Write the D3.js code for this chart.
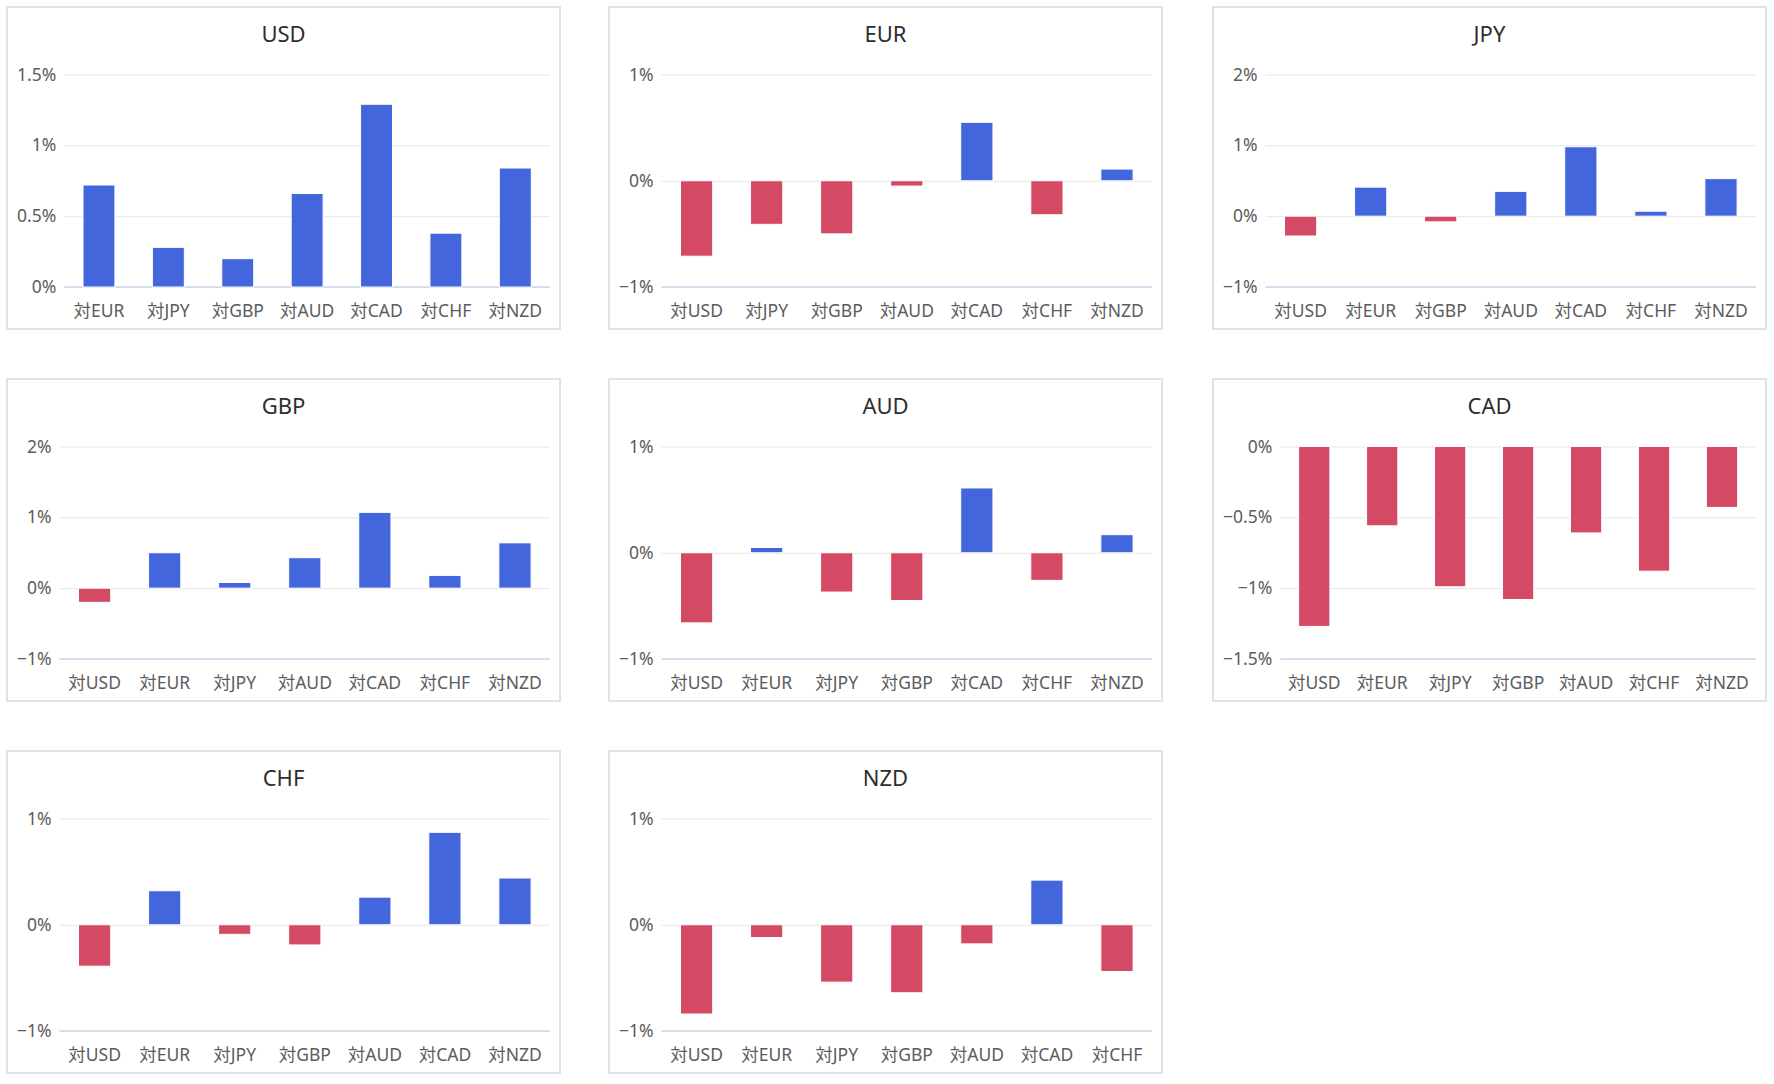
<!DOCTYPE html>
<html>
<head>
<meta charset="utf-8">
<script src="https://cdn.jsdelivr.net/npm/d3@7"></script>
<style>
  html, body { margin: 0; padding: 0; background: #ffffff; }
  svg { display: block; font-family: "Noto Sans", "Noto Sans CJK JP", sans-serif; }
</style>
</head>
<body>
<svg id="chart" width="1774" height="1084"></svg>
<script>
// ---- Data ----
const panelNames = ["USD", "EUR", "JPY", "GBP", "AUD", "CAD", "CHF", "NZD"];

const usdCategories = ["対EUR", "対JPY", "対GBP", "対AUD", "対CAD", "対CHF", "対NZD"];
const usdValues     = [0.72, 0.28, 0.20, 0.66, 1.29, 0.38, 0.84];
const usdTicks      = [0, 0.5, 1, 1.5];

const eurCategories = ["対USD", "対JPY", "対GBP", "対AUD", "対CAD", "対CHF", "対NZD"];
const eurValues     = [-0.71, -0.41, -0.50, -0.05, 0.55, -0.32, 0.11];
const eurTicks      = [-1, 0, 1];

const jpyCategories = ["対USD", "対EUR", "対GBP", "対AUD", "対CAD", "対CHF", "対NZD"];
const jpyValues     = [-0.28, 0.41, -0.08, 0.35, 0.98, 0.07, 0.53];
const jpyTicks      = [-1, 0, 1, 2];

const gbpCategories = ["対USD", "対EUR", "対JPY", "対AUD", "対CAD", "対CHF", "対NZD"];
const gbpValues     = [-0.20, 0.50, 0.08, 0.43, 1.07, 0.18, 0.64];
const gbpTicks      = [-1, 0, 1, 2];

const audCategories = ["対USD", "対EUR", "対JPY", "対GBP", "対CAD", "対CHF", "対NZD"];
const audValues     = [-0.66, 0.05, -0.37, -0.45, 0.61, -0.26, 0.17];
const audTicks      = [-1, 0, 1];

const cadCategories = ["対USD", "対EUR", "対JPY", "対GBP", "対AUD", "対CHF", "対NZD"];
const cadValues     = [-1.27, -0.56, -0.99, -1.08, -0.61, -0.88, -0.43];
const cadTicks      = [-1.5, -1, -0.5, 0];

const chfCategories = ["対USD", "対EUR", "対JPY", "対GBP", "対AUD", "対CAD", "対NZD"];
const chfValues     = [-0.39, 0.32, -0.09, -0.19, 0.26, 0.87, 0.44];
const chfTicks      = [-1, 0, 1];

const nzdCategories = ["対USD", "対EUR", "対JPY", "対GBP", "対AUD", "対CAD", "対CHF"];
const nzdValues     = [-0.84, -0.12, -0.54, -0.64, -0.18, 0.42, -0.44];
const nzdTicks      = [-1, 0, 1];

const panelCategories = [usdCategories, eurCategories, jpyCategories, gbpCategories, audCategories, cadCategories, chfCategories, nzdCategories];
const panelValues     = [usdValues, eurValues, jpyValues, gbpValues, audValues, cadValues, chfValues, nzdValues];
const panelTicks      = [usdTicks, eurTicks, jpyTicks, gbpTicks, audTicks, cadTicks, chfTicks, nzdTicks];

// ---- Layout / style ----
const colX = [7, 609, 1213];
const rowY = [7, 379, 751];
const panelW = 553, panelH = 322;
const plotTop = 67.5, plotBottom = 280, plotRightGap = 10;
const posColor = "#4466dc", negColor = "#d44a65";
const labelColor = "#5c5c5c";
const fontStack = "\"Noto Sans\", \"Noto Sans CJK JP\", sans-serif";

const fmt = v => (v < 0 ? "\u2212" : "") + String(Math.abs(v)) + "%";

const svg = d3.select("#chart");

panelNames.forEach((name, i) => {
  const cats = panelCategories[i], vals = panelValues[i], ticks = panelTicks[i];
  const g = svg.append("g")
    .attr("transform", `translate(${colX[i % 3]},${rowY[Math.floor(i / 3)]})`);

  g.append("rect")
    .attr("x", 0).attr("y", 0).attr("width", panelW).attr("height", panelH)
    .attr("fill", "#ffffff").attr("stroke", "#dde4e7").attr("stroke-width", 2);

  g.append("text")
    .attr("x", panelW / 2).attr("y", 35)
    .attr("text-anchor", "middle")
    .attr("font-size", 22).attr("fill", "#2e2e2e")
    .text(name);

  // measure y labels to compute plot left
  const meas = g.append("g").attr("font-size", 17.5);
  let maxW = 0;
  ticks.forEach(t => {
    const tn = meas.append("text").text(fmt(t));
    maxW = Math.max(maxW, tn.node().getComputedTextLength());
  });
  meas.remove();
  const plotLeft = 10 + maxW + 8;
  const plotRight = panelW - plotRightGap;

  const y = d3.scaleLinear()
    .domain([d3.min(ticks), d3.max(ticks)])
    .range([plotBottom, plotTop]);
  const x = d3.scaleBand()
    .domain(cats)
    .range([plotLeft, plotRight])
    .paddingInner(0.54).paddingOuter(0.27);

  // gridlines + y labels via axis
  const yAxis = d3.axisLeft(y).tickValues(ticks).tickFormat(fmt)
    .tickSize(-(plotRight - plotLeft)).tickPadding(8);
  const ya = g.append("g").attr("transform", `translate(${plotLeft},0)`).call(yAxis);
  ya.select(".domain").remove();
  ya.selectAll(".tick line").attr("stroke", "#e6e6e6").attr("stroke-width", 1);
  ya.selectAll(".tick text")
    .attr("font-size", 17.5).attr("fill", labelColor)
    .attr("font-family", fontStack)
    .attr("x", -8);

  // bottom axis line
  g.append("line")
    .attr("x1", plotLeft).attr("x2", plotRight)
    .attr("y1", plotBottom).attr("y2", plotBottom)
    .attr("stroke", "#ccd6eb").attr("stroke-width", 1.5);

  // bars
  g.append("g").selectAll("rect")
    .data(vals)
    .join("rect")
    .attr("x", (d, j) => x(cats[j]))
    .attr("width", x.bandwidth())
    .attr("y", d => Math.min(y(d), y(0)))
    .attr("height", d => Math.abs(y(d) - y(0)))
    .attr("fill", d => d >= 0 ? posColor : negColor)
    .attr("stroke", "#ffffff").attr("stroke-width", 1);

  // x labels
  const xAxis = d3.axisBottom(x).tickSize(0).tickPadding(0);
  const xa = g.append("g").attr("transform", `translate(0,${plotBottom})`).call(xAxis);
  xa.select(".domain").remove();
  xa.selectAll(".tick text")
    .attr("font-size", 17.5).attr("fill", labelColor)
    .attr("font-family", fontStack)
    .attr("dy", null)
    .attr("y", 30);
});
</script>
</body>
</html>
